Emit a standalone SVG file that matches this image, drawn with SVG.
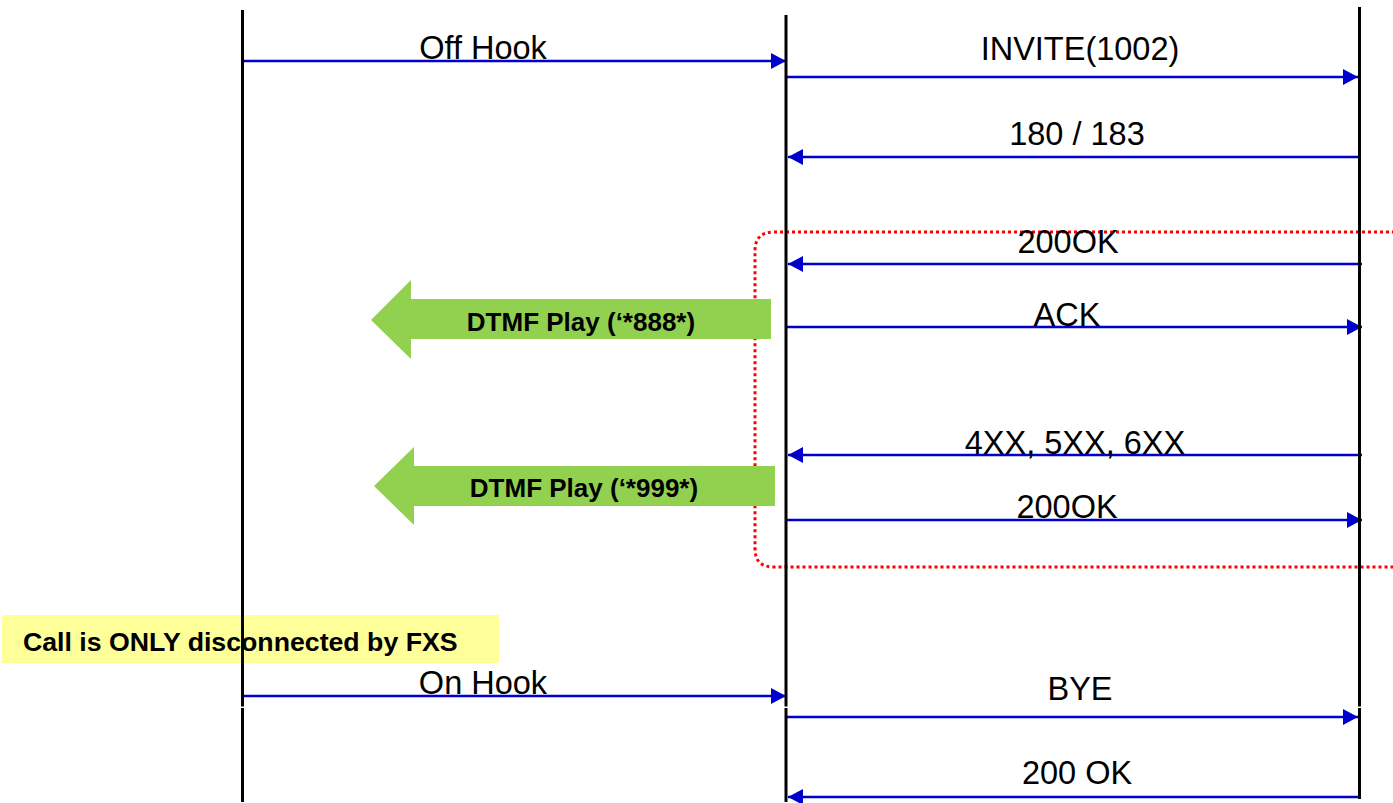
<svg xmlns="http://www.w3.org/2000/svg" width="1393" height="803" viewBox="0 0 1393 803">
<style>
.life{stroke:#000;stroke-width:3;fill:none}
.msg{stroke:#0000CC;stroke-width:2.6;fill:none;marker-end:url(#ah)}
.lbl{font-family:"Liberation Sans",Arial,sans-serif;font-size:32.5px;fill:#000;text-anchor:middle}
.bold{font-family:"Liberation Sans",Arial,sans-serif;font-size:26px;font-weight:bold;fill:#000}
.green{fill:#92D050}
</style>
<defs>
<marker id="ah" markerUnits="userSpaceOnUse" markerWidth="16" markerHeight="16" refX="15" refY="8" orient="auto" viewBox="0 0 16 16">
<path d="M0,0 L15,8 L0,16 z" fill="#0000CC"/>
</marker>
</defs>
<rect width="1393" height="803" fill="#fff"/>
<g id="note">
<rect x="2" y="615" width="497" height="48" fill="#FFFF99"/>
<text class="bold" x="23" y="651" style="font-size:26.7px">Call is ONLY disconnected by FXS</text>
</g>
<g id="region">
<path d="M1395,232 H774 Q755,232 755,251 V549 Q755,567 774,567 H1395" fill="none" stroke="#FF0000" stroke-width="3" stroke-dasharray="3,3"/>
</g>
<g id="dtmf1">
<polygon class="green" points="371,320 411,280 411,299 771,299 771,339 411,339 411,359"/>
<text class="bold" x="581" y="331" text-anchor="middle">DTMF Play (‘*888*)</text>
</g>
<g id="dtmf2">
<polygon class="green" points="374,486 414,447 414,466 775,466 775,506 414,506 414,525"/>
<text class="bold" x="584" y="497" text-anchor="middle">DTMF Play (‘*999*)</text>
</g>
<g id="connectors">
<line class="msg" x1="244" y1="61" x2="786" y2="61"/>
<line class="msg" x1="787" y1="77" x2="1358" y2="77"/>
<line class="msg" x1="1359" y1="157" x2="788" y2="157"/>
<line class="msg" x1="1362" y1="264" x2="788" y2="264"/>
<line class="msg" x1="787" y1="327" x2="1362" y2="327"/>
<line class="msg" x1="1362" y1="455" x2="788" y2="455"/>
<line class="msg" x1="787" y1="520" x2="1362" y2="520"/>
<line class="msg" x1="244" y1="696" x2="786" y2="696"/>
<line class="msg" x1="787" y1="717" x2="1358" y2="717"/>
<line class="msg" x1="1359" y1="797" x2="788" y2="797"/>
</g>
<g id="labels">
<text class="lbl" x="483" y="59">Off Hook</text>
<text class="lbl" x="1080" y="60">INVITE(1002)</text>
<text class="lbl" x="1077" y="145">180 / 183</text>
<text class="lbl" x="1068" y="253">200OK</text>
<text class="lbl" x="1067" y="326">ACK</text>
<text class="lbl" x="1075" y="454">4XX, 5XX, 6XX</text>
<text class="lbl" x="1067" y="518">200OK</text>
<text class="lbl" x="483" y="694">On Hook</text>
<text class="lbl" x="1080" y="700">BYE</text>
<text class="lbl" x="1077" y="784">200 OK</text>
</g>
<g id="lifeline-fxs">
<line class="life" x1="242.5" y1="10" x2="242.5" y2="706.5"/>
<line class="life" x1="242.5" y1="708" x2="242.5" y2="802"/>
</g>
<g id="lifeline-gw">
<line class="life" x1="786" y1="15" x2="786" y2="706.5"/>
<line class="life" x1="786" y1="708" x2="786" y2="802"/>
</g>
<g id="lifeline-sip">
<line class="life" x1="1359.5" y1="7" x2="1359.5" y2="706.5"/>
<line class="life" x1="1359.5" y1="708" x2="1359.5" y2="799"/>
</g>
</svg>
